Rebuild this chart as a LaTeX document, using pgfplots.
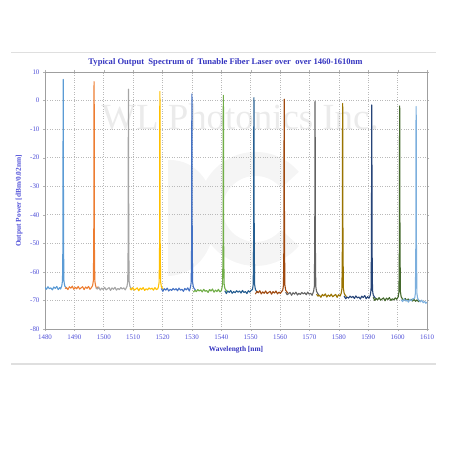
\documentclass[border=0pt]{standalone}
\usepackage{pgfplots}
\pgfplotsset{compat=1.18}
\usepackage{fontspec}
\setmainfont{Liberation Serif}

\definecolor{titleblue}{HTML}{3434C0}
\definecolor{labelblue}{HTML}{5050D8}
\definecolor{cA}{HTML}{5B9BD5}
\definecolor{cB}{HTML}{ED7D31}
\definecolor{cC}{HTML}{A5A5A5}
\definecolor{cD}{HTML}{FFC000}
\definecolor{cE}{HTML}{4472C4}
\definecolor{cF}{HTML}{70AD47}
\definecolor{cG}{HTML}{255E91}
\definecolor{cH}{HTML}{9E480E}
\definecolor{cI}{HTML}{636363}
\definecolor{cJ}{HTML}{997300}
\definecolor{cK}{HTML}{264478}
\definecolor{cL}{HTML}{43682B}
\definecolor{cM}{HTML}{7CAFDD}

\begin{document}
\begin{tikzpicture}[x=1bp,y=1bp]
\path (0,0) rectangle (450,450);
% frame lines of the chart area
\draw[gray!25, line width=1.5bp] (11,397.3) -- (436,397.3);
\draw[gray!25, line width=1.5bp] (11,86) -- (436,86);
% watermark
\node[text=gray!16, font=\fontsize{37}{37}\selectfont] at (240,333) {WL Photonics Inc.};
\fill[gray!8] (168,290) .. controls (230,292) and (232,176) .. (168,174) -- cycle;
\draw[gray!8, line width=24bp] (290,270) arc (40:320:45);

\begin{axis}[
    at={(45bp,121bp)}, anchor=south west,
    width=382bp, height=257bp, scale only axis,
    xmin=1480, xmax=1610, ymin=-80, ymax=10,
    xtick distance=10, ytick distance=10,
    grid=major,
    grid style={dotted, gray!55, line width=0.6bp},
    axis line style={gray!75, line width=0.9bp},
    tick align=outside, major tick length=2bp,
    tick style={gray!60},
    x tick label style={/pgf/number format/1000 sep={}},
    /pgf/number format/assume math mode=true,
    ticklabel style={font=\fontsize{7}{8}\selectfont, text=labelblue},
    every axis plot/.append style={line width=1.1bp, no markers, line join=round},
]
\addplot[cA] coordinates {
(1480,-65.4) (1480.5,-66.1) (1481,-65.2) (1481.5,-65.9) (1482,-65.6) (1482.5,-66.3)
(1483,-65.3) (1483.5,-65.8) (1484,-65.1) (1484.5,-66.2) (1485,-65.5) (1485.3,-66.0)
(1485.7,-64.9) (1485.95,-63.2) (1486.1,-50) (1486.16,1.4) (1486.2,7.4) (1486.24,1.4)
(1486.3,-50) (1486.45,-63.2) (1486.7,-64.9) (1487.1,-65.4) (1487.5,-65.9)};
\addplot[cB] coordinates {
(1486.8,-65.8) (1487.3,-65.5) (1487.8,-66.2) (1488.3,-65.2) (1488.8,-65.7) (1489.3,-65.0)
(1489.8,-66.1) (1490.3,-65.4) (1490.8,-65.9) (1491.3,-65.1) (1491.8,-66.0) (1492.3,-65.6)
(1492.8,-65.2) (1493.3,-66.2) (1493.8,-65.3) (1494.3,-65.8) (1494.8,-65.1) (1495.3,-66.1)
(1495.8,-65.5)
(1496.2,-64.8) (1496.45,-63.1) (1496.6,-50) (1496.66,0.6) (1496.7,6.6) (1496.74,0.6)
(1496.8,-50) (1496.95,-63.1) (1497.2,-64.8) (1497.6,-65.9) (1498.0,-65.3) (1498.3,-65.8)};
\addplot[cC] coordinates {
(1497.3,-65.5) (1497.8,-66.0) (1498.3,-65.3) (1498.8,-66.4) (1499.3,-65.7) (1499.8,-66.2)
(1500.3,-65.4) (1500.8,-66.3) (1501.3,-65.9) (1501.8,-65.5) (1502.3,-66.5) (1502.8,-65.6)
(1503.3,-66.1) (1503.8,-65.4) (1504.3,-66.4) (1504.8,-65.8) (1505.3,-66.2) (1505.8,-65.5)
(1506.3,-66.0) (1506.8,-65.6) (1507.3,-66.3)
(1507.9,-65.1) (1508.15,-63.4) (1508.3,-50) (1508.36,-2.0) (1508.4,4.0) (1508.44,-2.0)
(1508.5,-50) (1508.65,-63.4) (1508.9,-65.1) (1509.3,-65.7) (1509.7,-66.1)};
\addplot[cD] coordinates {
(1508.9,-65.8) (1509.4,-66.3) (1509.9,-65.5) (1510.4,-66.4) (1510.9,-66.0) (1511.4,-65.6)
(1511.9,-66.6) (1512.4,-65.7) (1512.9,-66.2) (1513.4,-65.5) (1513.9,-66.5) (1514.4,-65.9)
(1514.9,-66.3) (1515.4,-65.6) (1515.9,-66.1) (1516.4,-65.7) (1516.9,-66.4) (1517.4,-65.5)
(1517.9,-66.2) (1518.4,-65.9)
(1518.6,-65.2) (1518.85,-63.5) (1519.0,-50) (1519.06,-2.8) (1519.1,3.2) (1519.14,-2.8)
(1519.2,-50) (1519.35,-63.5) (1519.6,-65.2) (1520.0,-65.8) (1520.4,-66.3)};
\addplot[cE] coordinates {
(1519.6,-65.8) (1520.1,-66.8) (1520.6,-65.9) (1521.1,-66.4) (1521.6,-65.7) (1522.1,-66.7)
(1522.6,-66.1) (1523.1,-66.5) (1523.6,-65.8) (1524.1,-66.3) (1524.6,-65.9) (1525.1,-66.6)
(1525.6,-65.7) (1526.1,-66.4) (1526.6,-66.1) (1527.1,-66.8) (1527.6,-65.8) (1528.1,-66.3)
(1528.6,-65.6) (1529.1,-66.7)
(1529.5,-65.4) (1529.75,-63.7) (1529.9,-50) (1529.96,-3.7) (1530.0,2.3) (1530.04,-3.7)
(1530.1,-50) (1530.25,-63.7) (1530.5,-65.4) (1530.9,-66.0) (1531.3,-66.5)};
\addplot[cF] coordinates {
(1530.5,-67.1) (1531.0,-66.5) (1531.5,-66.9) (1532.0,-66.2) (1532.5,-66.7) (1533.0,-66.3)
(1533.5,-67.0) (1534.0,-66.1) (1534.5,-66.8) (1535.0,-66.5) (1535.5,-67.2) (1536.0,-66.2)
(1536.5,-66.7) (1537.0,-66.0) (1537.5,-67.1) (1538.0,-66.4) (1538.5,-66.9) (1539.0,-66.1)
(1539.5,-67.0) (1540.0,-66.6)
(1540.2,-65.8) (1540.45,-64.1) (1540.6,-50) (1540.66,-4.2) (1540.7,1.8) (1540.74,-4.2)
(1540.8,-50) (1540.95,-64.1) (1541.2,-65.8) (1541.6,-66.4) (1542.0,-66.9)};
\addplot[cG] coordinates {
(1541.2,-66.6) (1541.7,-67.6) (1542.2,-66.7) (1542.7,-67.2) (1543.2,-66.5) (1543.7,-67.5)
(1544.2,-66.9) (1544.7,-67.3) (1545.2,-66.6) (1545.7,-67.1) (1546.2,-66.7) (1546.7,-67.4)
(1547.2,-66.5) (1547.7,-67.2) (1548.2,-66.9) (1548.7,-67.6) (1549.2,-66.6) (1549.7,-67.1)
(1550.2,-66.4)
(1550.6,-66.2) (1550.85,-64.5) (1551.0,-50) (1551.06,-5.0) (1551.1,1.0) (1551.14,-5.0)
(1551.2,-50) (1551.35,-64.5) (1551.6,-66.2) (1552.0,-66.8) (1552.4,-67.3)};
\addplot[cH] coordinates {
(1551.6,-67.8) (1552.1,-66.8) (1552.6,-67.3) (1553.1,-66.6) (1553.6,-67.7) (1554.1,-67.0)
(1554.6,-67.5) (1555.1,-66.7) (1555.6,-67.6) (1556.1,-67.2) (1556.6,-66.8) (1557.1,-67.8)
(1557.6,-66.9) (1558.1,-67.4) (1558.6,-66.7) (1559.1,-67.7) (1559.6,-67.1) (1560.1,-67.5)
(1560.6,-66.8)
(1560.9,-66.4) (1561.15,-64.7) (1561.3,-50) (1561.36,-5.5) (1561.4,0.5) (1561.44,-5.5)
(1561.5,-50) (1561.65,-64.7) (1561.9,-66.4) (1562.3,-67.0) (1562.7,-67.5)};
\addplot[cI] coordinates {
(1561.9,-67.1) (1562.4,-68.0) (1562.9,-67.6) (1563.4,-67.2) (1563.9,-68.2) (1564.4,-67.3)
(1564.9,-67.8) (1565.4,-67.1) (1565.9,-68.1) (1566.4,-67.5) (1566.9,-67.9) (1567.4,-67.2)
(1567.9,-67.7) (1568.4,-67.3) (1568.9,-68.0) (1569.4,-67.1) (1569.9,-67.8) (1570.4,-67.5)
(1570.9,-68.2)
(1571.4,-66.8) (1571.65,-65.1) (1571.8,-50) (1571.86,-6.2) (1571.9,-0.2) (1571.94,-6.2)
(1572.0,-50) (1572.15,-65.1) (1572.4,-66.8) (1572.8,-67.6) (1573.2,-68.0)};
\addplot[cJ] coordinates {
(1572.4,-67.8) (1572.9,-68.5) (1573.4,-68.2) (1573.9,-68.9) (1574.4,-67.9) (1574.9,-68.4)
(1575.4,-67.7) (1575.9,-68.8) (1576.4,-68.1) (1576.9,-68.6) (1577.4,-67.8) (1577.9,-68.7)
(1578.4,-68.3) (1578.9,-67.9) (1579.4,-68.9) (1579.9,-68.0) (1580.4,-68.5)
(1580.8,-67.5) (1581.05,-65.8) (1581.2,-50) (1581.26,-7.0) (1581.3,-1.0) (1581.34,-7.0)
(1581.4,-50) (1581.55,-65.8) (1581.8,-67.5) (1582.2,-68.2) (1582.6,-68.7)};
\addplot[cK] coordinates {
(1581.8,-68.4) (1582.3,-69.4) (1582.8,-68.8) (1583.3,-69.2) (1583.8,-68.5) (1584.3,-69.0)
(1584.8,-68.6) (1585.3,-69.3) (1585.8,-68.4) (1586.3,-69.1) (1586.8,-68.8) (1587.3,-69.5)
(1587.8,-68.5) (1588.3,-69.0) (1588.8,-68.3) (1589.3,-69.4) (1589.8,-68.7) (1590.3,-69.2)
(1590.7,-68.1) (1590.95,-66.4) (1591.1,-50) (1591.16,-7.5) (1591.2,-1.5) (1591.24,-7.5)
(1591.3,-50) (1591.45,-66.4) (1591.7,-68.1) (1592.1,-68.8) (1592.5,-69.3)};
\addplot[cL] coordinates {
(1591.7,-68.9) (1592.2,-70.0) (1592.7,-69.3) (1593.2,-69.8) (1593.7,-69.0) (1594.2,-69.9)
(1594.7,-69.5) (1595.2,-69.1) (1595.7,-70.1) (1596.2,-69.2) (1596.7,-69.7) (1597.2,-69.0)
(1597.7,-70.0) (1598.2,-69.4) (1598.7,-69.8) (1599.2,-69.1) (1599.7,-69.6)
(1600.2,-68.7) (1600.45,-67.0) (1600.6,-50) (1600.66,-7.9) (1600.7,-1.9) (1600.74,-7.9)
(1600.8,-50) (1600.95,-67.0) (1601.2,-68.7) (1601.6,-69.4) (1602.1,-69.9) (1602.6,-69.3)
(1603.1,-70.1) (1603.6,-69.5) (1604.1,-70.0) (1604.6,-69.6) (1605.1,-70.2) (1605.6,-69.7)
(1606.1,-70.3) (1606.6,-69.8) (1607.1,-70.4) (1607.5,-69.9)};
\addplot[cM] coordinates {
(1601.2,-69.7) (1601.7,-70.4) (1602.2,-69.5) (1602.7,-70.2) (1603.2,-69.9) (1603.7,-70.6)
(1604.2,-69.6) (1604.7,-70.1) (1605.2,-69.4)
(1605.8,-69.2) (1606.05,-67.5) (1606.2,-50) (1606.26,-8.1) (1606.3,-2.1) (1606.34,-8.1)
(1606.4,-50) (1606.55,-67.5) (1606.8,-69.2) (1607.2,-70.0) (1607.7,-70.5) (1608.2,-69.9)
(1608.7,-70.8) (1609.2,-70.3) (1609.6,-71.0) (1610,-70.6)};
\end{axis}

\node[text=titleblue, font=\bfseries\fontsize{8.6}{9}\selectfont] at (225.5,388) {Typical Output\ \ Spectrum of\ \ Tunable Fiber Laser over\ \ over 1460-1610nm};
\node[text=titleblue, font=\bfseries\fontsize{7.4}{8}\selectfont] at (236,100) {Wavelength [nm]};
\node[text=labelblue, font=\bfseries\fontsize{7.4}{8}\selectfont, rotate=90] at (19,249) {Output Power [dBm/0.02nm]};
\end{tikzpicture}
\end{document}
